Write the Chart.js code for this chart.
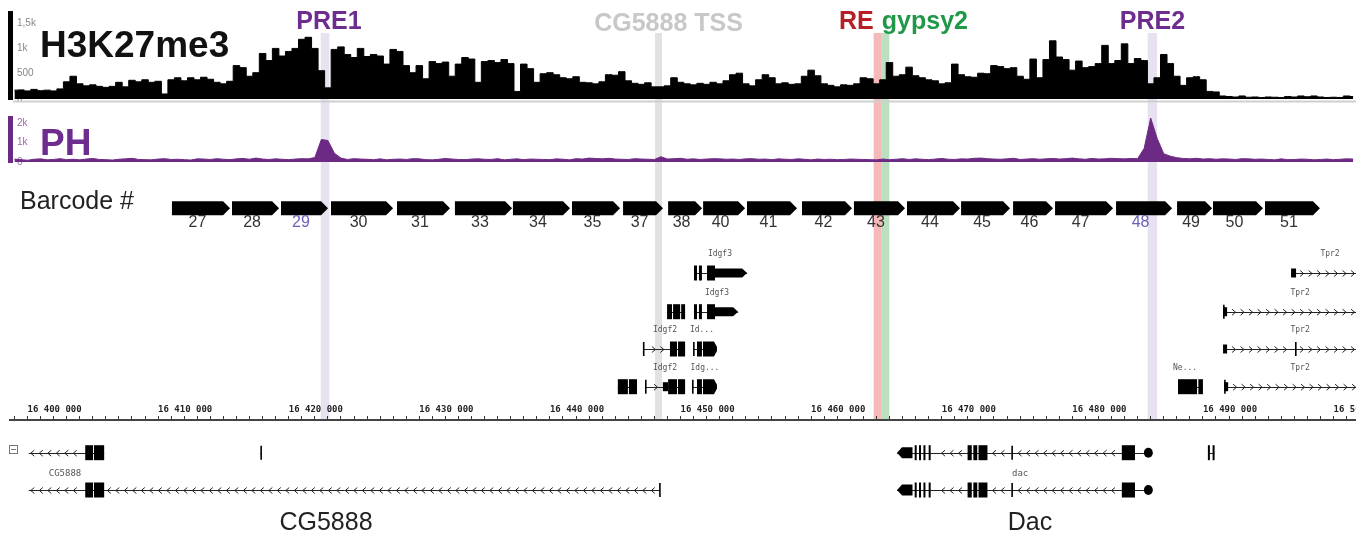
<!DOCTYPE html>
<html>
<head>
<meta charset="utf-8">
<script src="https://cdn.jsdelivr.net/npm/chart.js@4.4.0/dist/chart.umd.min.js"></script>
<style>
  html, body { margin: 0; padding: 0; background: #fff; }
  #wrap { position: relative; width: 1367px; height: 539px; overflow: hidden; }
  #wrap canvas { position: absolute; left: 0; display: block; }
</style>
</head>
<body>
<div id="wrap">
  <canvas id="map" width="1367" height="539" style="top:0"></canvas>
  <canvas id="h3" width="1367" height="112" style="top:0"></canvas>
  <canvas id="ph" width="1367" height="70" style="top:105px"></canvas>
  <canvas id="ruler" width="1356" height="144" style="top:395px"></canvas>
</div>
<script>
// ---- genomic window (bp) ----
const REGION_START = 16398660;
const REGION_END = 16501720;
const OFFSET = 16400000;            // feature coordinates below are kb from here
const BIN_START = 16399000;         // first signal bin
const BIN_SIZE = 500;               // bp per signal bin

// ---- H3K27me3 ChIP signal, one value per 500 bp bin ----
const h3k27me3 = [
  175,180,160,190,165,175,160,200,340,450,
  300,260,280,250,230,250,330,240,370,340,
  380,330,350,100,380,420,360,420,380,430,
  390,330,300,350,660,620,450,520,900,760,
  1000,850,940,1000,1180,1220,1000,560,220,980,
  1030,880,820,1000,840,880,850,690,980,940,
  660,520,660,400,740,700,730,450,690,820,
  790,330,740,760,720,780,700,150,690,600,
  330,500,520,480,420,400,440,330,320,300,
  340,480,470,540,360,310,290,320,240,240,
  260,420,330,300,280,310,290,330,300,360,
  480,510,300,260,380,480,420,300,320,290,
  300,450,570,460,300,270,240,280,270,300,
  420,400,300,380,720,450,480,630,460,420,
  380,360,300,320,690,480,440,430,510,500,
  660,640,600,620,450,390,790,420,780,1150,
  830,780,570,750,620,640,700,1060,700,760,
  1090,700,800,760,300,420,880,700,450,270,
  420,440,380,150,140,60,50,40,60,35,
  40,30,40,35,30,50,40,60,45,60,
  40,30,35,30,60,50
];

// ---- PH ChIP signal, same bins ----
const ph = [
  150,120,90,140,160,110,130,170,120,140,
  110,150,180,130,120,100,140,160,190,130,
  120,110,150,170,130,140,120,100,160,150,
  130,170,140,120,160,180,140,200,150,130,
  160,140,120,150,170,160,230,1150,1100,450,
  200,130,170,150,140,120,160,110,140,150,
  130,170,160,120,110,140,180,150,130,120,
  150,160,140,130,170,110,140,160,120,150,
  140,130,120,160,140,110,170,150,200,180,
  160,190,150,140,130,170,150,140,130,270,
  150,170,190,140,160,130,150,170,160,140,
  150,130,160,170,140,150,120,160,140,130,
  160,140,110,150,130,140,120,130,150,140,
  130,120,110,150,120,140,170,130,160,140,
  120,150,180,140,130,160,150,190,200,170,
  150,140,160,190,130,150,170,140,160,180,
  150,170,200,160,140,180,150,160,190,170,
  160,180,170,700,2250,1200,420,300,220,180,
  160,190,150,170,140,160,150,130,170,160,
  140,150,130,110,160,120,130,150,140,110,
  130,150,120,140,160,150
];

// ---- track axis ticks ----
const h3Ticks = [0, 500, 1000, 1500];
const h3TickLabels = ['0', '500', '1k', '1,5k'];
const phTicks = [0, 1000, 2000];
const phTickLabels = ['0', '1k', '2k'];
const RULER_MINOR = 1000, RULER_MAJOR = 10000;

// ---- barcoded reporter insertions (kb) ----
const barcodeIds   = [27, 28, 29, 30, 31, 33, 34, 35, 37, 38, 40, 41, 42, 43, 44, 45, 46, 47, 48, 49, 50, 51];
const barcodeStart = [11.06,15.66,19.41,23.24,28.29,32.73,37.17,41.69,45.60,49.05,51.73,55.09,59.30,63.28,67.34,71.48,75.46,78.68,83.35,88.02,90.77,94.75];
const barcodeEnd   = [15.51,19.26,23.01,27.99,32.35,37.10,41.54,45.37,48.66,51.65,54.94,58.92,63.13,67.19,71.40,75.23,78.52,83.12,87.64,90.70,94.60,98.96];
const highlightedBarcodes = [29, 48];

// ---- highlighted elements (kb) ----
const elementNames = ['PRE1', 'CG5888 TSS', 'RE', 'gypsy2', 'PRE2'];
const elementStart = [22.45, 48.05, 64.79, 65.41, 85.77];
const elementEnd   = [23.11, 48.58, 65.41, 65.99, 86.49];

// ---- gene models (kb); exon kinds: c coding, u utr, t tick, cp/pr pointed right, pl pointed left, o round end ----
const dacExons = [[66.58,67.76,'pl'],[67.93,68.05,'c'],[68.26,68.38,'c'],[68.60,68.72,'c'],[69.00,69.15,'c'],
                  [71.98,72.30,'c'],[72.42,72.72,'c'],[72.82,73.50,'c'],[75.33,75.40,'t'],[83.79,84.80,'c'],[85.48,86.16,'o']];
const transcripts = [
  {lane:0, strand:1, label:'Idgf3', labelAt:53.02, start:51.03, end:55.10, exons:[[51.03,51.26,'c'],[51.41,51.64,'c'],[52.03,52.64,'c'],[52.64,55.10,'pr']]},
  {lane:1, strand:1, label:'', start:48.97, end:50.35, exons:[[48.97,49.35,'c'],[49.43,49.97,'c'],[50.05,50.35,'c']]},
  {lane:1, strand:1, label:'Idgf3', labelAt:52.79, start:51.03, end:54.41, exons:[[51.03,51.26,'c'],[51.41,51.64,'c'],[52.03,52.64,'c'],[52.64,54.41,'pr']]},
  {lane:2, strand:1, label:'Idgf2', labelAt:48.81, start:47.12, end:50.35, exons:[[47.12,47.17,'t'],[49.19,49.73,'c'],[49.81,50.35,'c']]},
  {lane:2, strand:1, label:'Id...', labelAt:51.64, start:50.96, end:52.79, exons:[[50.96,51.01,'t'],[51.26,51.64,'c'],[51.72,52.79,'cp']]},
  {lane:3, strand:1, label:'', start:45.20, end:46.67, exons:[[45.20,45.97,'c'],[46.05,46.67,'c']]},
  {lane:3, strand:1, label:'Idgf2', labelAt:48.81, start:47.28, end:50.35, exons:[[47.28,47.33,'t'],[48.65,49.05,'u'],[49.05,49.73,'c'],[49.81,50.35,'c']]},
  {lane:3, strand:1, label:'Idg...', labelAt:51.87, start:50.88, end:52.79, exons:[[50.88,50.93,'t'],[51.26,51.64,'c'],[51.72,52.79,'cp']]},
  {lane:0, strand:1, label:'Tpr2', labelAt:99.73, start:96.75, end:102.5, exons:[[96.75,97.13,'u']]},
  {lane:1, strand:1, label:'Tpr2', labelAt:97.44, start:91.54, end:102.5, exons:[[91.54,91.60,'t'],[91.54,91.85,'u']]},
  {lane:2, strand:1, label:'Tpr2', labelAt:97.44, start:91.54, end:102.5, exons:[[91.54,91.85,'u'],[97.05,97.10,'t']]},
  {lane:3, strand:1, label:'Ne...', labelAt:88.63, start:88.09, end:90.00, exons:[[88.09,89.55,'c'],[89.65,90.00,'c']]},
  {lane:3, strand:1, label:'Tpr2', labelAt:97.44, start:91.62, end:102.5, exons:[[91.62,91.67,'t'],[91.62,91.93,'u']]},
  {lane:4, strand:-1, label:'', start:0.10, end:5.87, exons:[[4.42,5.02,'c'],[5.09,5.87,'c']]},
  {lane:4, strand:-1, label:'', start:17.83, end:17.89, exons:[[17.83,17.89,'t']]},
  {lane:4, strand:-1, label:'', start:66.58, end:86.16, exons:dacExons},
  {lane:4, strand:-1, label:'', start:90.38, end:90.88, exons:[[90.38,90.50,'c'],[90.74,90.88,'c']]},
  {lane:5, strand:-1, label:'CG5888', labelAt:2.87, start:0.10, end:48.40, exons:[[4.42,5.02,'c'],[5.09,5.87,'c'],[48.36,48.40,'t']]},
  {lane:5, strand:-1, label:'dac', labelAt:76.00, start:66.58, end:86.16, exons:dacExons}
];

// ---- layout and styles ----
const PAD_LEFT = 10, PAD_RIGHT = 11;
const LANE_Y = [273, 311.7, 349, 386.7, 452.7, 490];
const LANE_LABEL_DY = [-19, -19, -19, -19, -17, -16];
const BAND_TOP = 33, BAND_BOTTOM = 419;
const ELEMENT_STYLE = {
  'PRE1':       {band: '#e8e1f0', text: '#6c2d8f', align: 'center', dx: 4,  y: 28.5},
  'CG5888 TSS': {band: '#e2e2e2', text: '#c8c8c8', align: 'center', dx: 10, y: 31},
  'RE':         {band: '#f6b8b8', text: '#b52027', align: 'right',  dx: 0,  y: 28.5},
  'gypsy2':     {band: '#bcdfbf', text: '#1f9848', align: 'left',   dx: 0,  y: 28.5},
  'PRE2':       {band: '#e8e1f0', text: '#6c2d8f', align: 'center', dx: 0,  y: 28.5}
};
const SANS = '"Liberation Sans", Arial, sans-serif';
const MONO = '"DejaVu Sans Mono", "Liberation Mono", monospace';
const kb = v => OFFSET + v * 1000;

// ---- gene model painter ----
function drawTranscript(ctx, xs, t) {
  const yc = LANE_Y[t.lane];
  const px = v => xs.getPixelForValue(kb(v));
  const x0 = px(t.start), x1 = px(t.end);
  ctx.strokeStyle = '#222';
  ctx.fillStyle = '#000';
  ctx.lineWidth = 1;
  // intron backbone
  ctx.beginPath();
  ctx.moveTo(x0, Math.round(yc) + 0.5);
  ctx.lineTo(x1, Math.round(yc) + 0.5);
  ctx.stroke();
  // strand chevrons along introns
  const exPx = t.exons.map(e => [px(e[0]) - 2, px(e[1]) + 2]);
  for (let x = x0 + 3; x < x1 - 2; x += 8.5) {
    if (exPx.some(r => x > r[0] - 2 && x < r[1] + 2)) continue;
    const d = t.strand > 0 ? 2.5 : -2.5;
    ctx.beginPath();
    ctx.moveTo(x - d, yc - 2.5);
    ctx.lineTo(x + d * 0.4, yc + 0.5);
    ctx.lineTo(x - d, yc + 3.5);
    ctx.stroke();
  }
  // exons
  t.exons.forEach(([s, e, kind]) => {
    const a = px(s), b = Math.max(px(e), a + 1.5);
    ctx.beginPath();
    if (kind === 'c') {
      ctx.rect(a, yc - 7.5, Math.max(b - a, 2), 15);
    } else if (kind === 'u') {
      ctx.rect(a, yc - 4.5, Math.max(b - a, 2), 9);
    } else if (kind === 't') {
      ctx.rect(a, yc - 7, 1.6, 14);
    } else if (kind === 'cp') {
      ctx.moveTo(a, yc - 7.5); ctx.lineTo(b - 3, yc - 7.5); ctx.lineTo(b, yc - 2);
      ctx.lineTo(b, yc + 2); ctx.lineTo(b - 3, yc + 7.5); ctx.lineTo(a, yc + 7.5); ctx.closePath();
    } else if (kind === 'pr') {
      ctx.moveTo(a, yc - 4.5); ctx.lineTo(b - 5, yc - 4.5); ctx.lineTo(b, yc);
      ctx.lineTo(b - 5, yc + 4.5); ctx.lineTo(a, yc + 4.5); ctx.closePath();
    } else if (kind === 'pl') {
      ctx.moveTo(a, yc); ctx.lineTo(a + 5, yc - 5.5); ctx.lineTo(b, yc - 5.5);
      ctx.lineTo(b, yc + 5.5); ctx.lineTo(a + 5, yc + 5.5); ctx.closePath();
    } else if (kind === 'o') {
      ctx.ellipse((a + b) / 2, yc, (b - a) / 2, 5, 0, 0, Math.PI * 2);
    }
    ctx.fill();
  });
  if (t.label) {
    ctx.font = (t.lane >= 4 ? '9px ' : '8px ') + MONO;
    ctx.fillStyle = '#555';
    ctx.textAlign = 'center';
    ctx.textBaseline = 'middle';
    ctx.fillText(t.label, px(t.labelAt), yc + LANE_LABEL_DY[t.lane]);
  }
}

// ---- overview layer: element bands, barcode arrows, gene models, captions ----
const mapLayers = {
  id: 'mapLayers',
  beforeDatasetsDraw(chart) {
    const {ctx, scales: {x}} = chart;
    ctx.save();
    elementNames.forEach((n, i) => {
      const a = x.getPixelForValue(kb(elementStart[i]));
      const b = x.getPixelForValue(kb(elementEnd[i]));
      ctx.fillStyle = ELEMENT_STYLE[n].band;
      ctx.fillRect(a, BAND_TOP, b - a, BAND_BOTTOM - BAND_TOP);
    });
    ctx.restore();
  },
  beforeDatasetDraw(chart, args) {
    if (args.index !== 0) return;
    const ctx = chart.ctx;
    ctx.save();
    ctx.font = '16px ' + SANS;
    ctx.textAlign = 'center';
    ctx.textBaseline = 'alphabetic';
    args.meta.data.forEach((bar, i) => {
      const s = Math.min(bar.base, bar.x), e = Math.max(bar.base, bar.x);
      const h = bar.height, yc = bar.y;
      const tip = Math.min(7, (e - s) / 3);
      ctx.fillStyle = '#000';
      ctx.beginPath();
      ctx.moveTo(s, yc - h / 2);
      ctx.lineTo(e - tip, yc - h / 2);
      ctx.lineTo(e, yc);
      ctx.lineTo(e - tip, yc + h / 2);
      ctx.lineTo(s, yc + h / 2);
      ctx.closePath();
      ctx.fill();
      const id = barcodeIds[i];
      ctx.fillStyle = highlightedBarcodes.includes(id) ? '#6a62b8' : '#333';
      ctx.fillText(String(id), (s + e - tip) / 2, 227);
    });
    ctx.restore();
    return false;
  },
  afterDatasetsDraw(chart) {
    const {ctx, chartArea, scales: {x}} = chart;
    ctx.save();
    // element captions
    ctx.font = 'bold 25px ' + SANS;
    ctx.textBaseline = 'alphabetic';
    elementNames.forEach((n, i) => {
      const st = ELEMENT_STYLE[n];
      const a = x.getPixelForValue(kb(elementStart[i]));
      const b = x.getPixelForValue(kb(elementEnd[i]));
      ctx.fillStyle = st.text;
      ctx.textAlign = st.align;
      const ax = st.align === 'center' ? (a + b) / 2 : a;
      ctx.fillText(n, ax + st.dx, st.y);
    });
    // row caption
    ctx.fillStyle = '#222';
    ctx.textAlign = 'left';
    ctx.font = '25px ' + SANS;
    ctx.fillText('Barcode #', 20, 209);
    // gene models
    ctx.save();
    ctx.beginPath();
    ctx.rect(0, 0, chartArea.right, chart.height);
    ctx.clip();
    transcripts.forEach(t => drawTranscript(ctx, x, t));
    ctx.restore();
    // collapse box of the lower gene track
    ctx.strokeStyle = '#777';
    ctx.lineWidth = 1;
    ctx.strokeRect(9.5, 445.5, 8, 8);
    ctx.beginPath(); ctx.moveTo(11, 449.5); ctx.lineTo(16, 449.5); ctx.stroke();
    // gene names
    ctx.fillStyle = '#222';
    ctx.font = '25px ' + SANS;
    ctx.textAlign = 'center';
    ctx.fillText('CG5888', 326, 530);
    ctx.fillText('Dac', 1030, 530);
    ctx.restore();
  }
};

new Chart(document.getElementById('map'), {
  type: 'bar',
  data: {
    datasets: [{
      label: 'Barcode',
      data: barcodeIds.map((id, i) => ({x: [kb(barcodeStart[i]), kb(barcodeEnd[i])], y: 198})),
      backgroundColor: '#000',
      barThickness: 14
    }]
  },
  options: {
    indexAxis: 'y',
    responsive: false,
    animation: false,
    layout: {padding: {left: PAD_LEFT, right: PAD_RIGHT, top: 0, bottom: 0}},
    plugins: {legend: {display: false}, tooltip: {enabled: false}},
    scales: {
      x: {type: 'linear', min: REGION_START, max: REGION_END, display: false},
      y: {type: 'linear', min: 0, max: 539, reverse: true, display: false}
    }
  },
  plugins: [mapLayers]
});

// ---- signal tracks ----
function signalTrack(id, values, o) {
  const titlePlugin = {
    id: 'trackTitle',
    afterDraw(chart) {
      const {ctx, chartArea} = chart;
      ctx.save();
      if (o.baseLine) {
        ctx.strokeStyle = o.baseLine;
        ctx.lineWidth = 2;
        ctx.beginPath();
        ctx.moveTo(chartArea.left + 3, chartArea.bottom + 2.5);
        ctx.lineTo(chartArea.right, chartArea.bottom + 2.5);
        ctx.stroke();
      }
      ctx.font = 'bold 37px ' + SANS;
      ctx.fillStyle = o.titleColor;
      ctx.textAlign = 'left';
      ctx.textBaseline = 'alphabetic';
      ctx.fillText(o.title, 40, o.titleY);
      ctx.restore();
    }
  };
  return new Chart(document.getElementById(id), {
    type: 'line',
    data: {
      datasets: [{
        label: o.title,
        data: values.map((v, i) => ({x: BIN_START + i * BIN_SIZE, y: v})),
        borderColor: o.color,
        backgroundColor: o.color,
        borderWidth: 1,
        pointRadius: 0,
        fill: 'origin',
        stepped: o.stepped,
        tension: 0
      }]
    },
    options: {
      responsive: false,
      animation: false,
      layout: {padding: {left: PAD_LEFT, right: PAD_RIGHT, top: o.padTop, bottom: o.padBottom}},
      plugins: {legend: {display: false}, tooltip: {enabled: false}},
      scales: {
        x: {type: 'linear', min: REGION_START, max: REGION_END, display: false},
        y: {
          type: 'linear', min: 0, max: o.max, position: 'left', z: 1,
          afterFit(s) { s.width = 0; },
          afterBuildTicks(s) { s.ticks = o.ticks.map(v => ({value: v})); },
          grid: {display: false},
          border: {display: true, color: o.color, width: 5},
          ticks: {
            mirror: true, padding: 7, color: o.tickColor,
            font: {family: 'Liberation Sans', size: 10},
            showLabelBackdrop: true, backdropColor: '#fff', backdropPadding: 1,
            callback: v => o.labels[o.ticks.indexOf(v)]
          }
        }
      }
    },
    plugins: [titlePlugin]
  });
}

signalTrack('h3', h3k27me3, {
  title: 'H3K27me3', titleColor: '#111', titleY: 56.7, color: '#000', tickColor: '#888', stepped: 'middle',
  max: 1700, ticks: h3Ticks, labels: h3TickLabels, padTop: 11.8, padBottom: 7.4, baseLine: '#cfcfcf'
});
signalTrack('ph', ph, {
  title: 'PH', titleColor: '#6c2d8f', titleY: 50, color: '#6d2a85', tickColor: '#9b6aa6', stepped: false,
  max: 2250, ticks: phTicks, labels: phTickLabels, padTop: 6, padBottom: 7.5
});

// ---- coordinate ruler ----
const fmtBp = v => String(v).replace(/\B(?=(\d{3})+(?!\d))/g, ' ');
new Chart(document.getElementById('ruler'), {
  type: 'line',
  data: {datasets: []},
  options: {
    responsive: false,
    animation: false,
    layout: {padding: {left: PAD_LEFT, right: 0, top: 0, bottom: 0}},
    plugins: {legend: {display: false}, tooltip: {enabled: false}},
    scales: {
      x: {
        type: 'linear', position: 'top', min: REGION_START, max: REGION_END,
        afterBuildTicks(s) {
          const t = [];
          for (let v = Math.ceil(s.min / RULER_MINOR) * RULER_MINOR; v <= s.max; v += RULER_MINOR) t.push({value: v});
          s.ticks = t;
        },
        afterFit(s) { s.height = 25; s.paddingLeft = 0; s.paddingRight = 0; },
        grid: {drawOnChartArea: false, drawTicks: true, tickLength: 4, color: '#333', lineWidth: 1},
        border: {display: true, color: '#444', width: 2},
        ticks: {
          autoSkip: false, maxRotation: 0, minRotation: 0,
          align: 'start', padding: 1, color: '#222',
          font: {family: 'DejaVu Sans Mono', size: 9, weight: 'bold'},
          callback: v => (Math.round(v) % RULER_MAJOR === 0 ? fmtBp(Math.round(v)) : '')
        }
      },
      y: {display: false, min: 0, max: 1}
    }
  }
});
</script>
</body>
</html>
